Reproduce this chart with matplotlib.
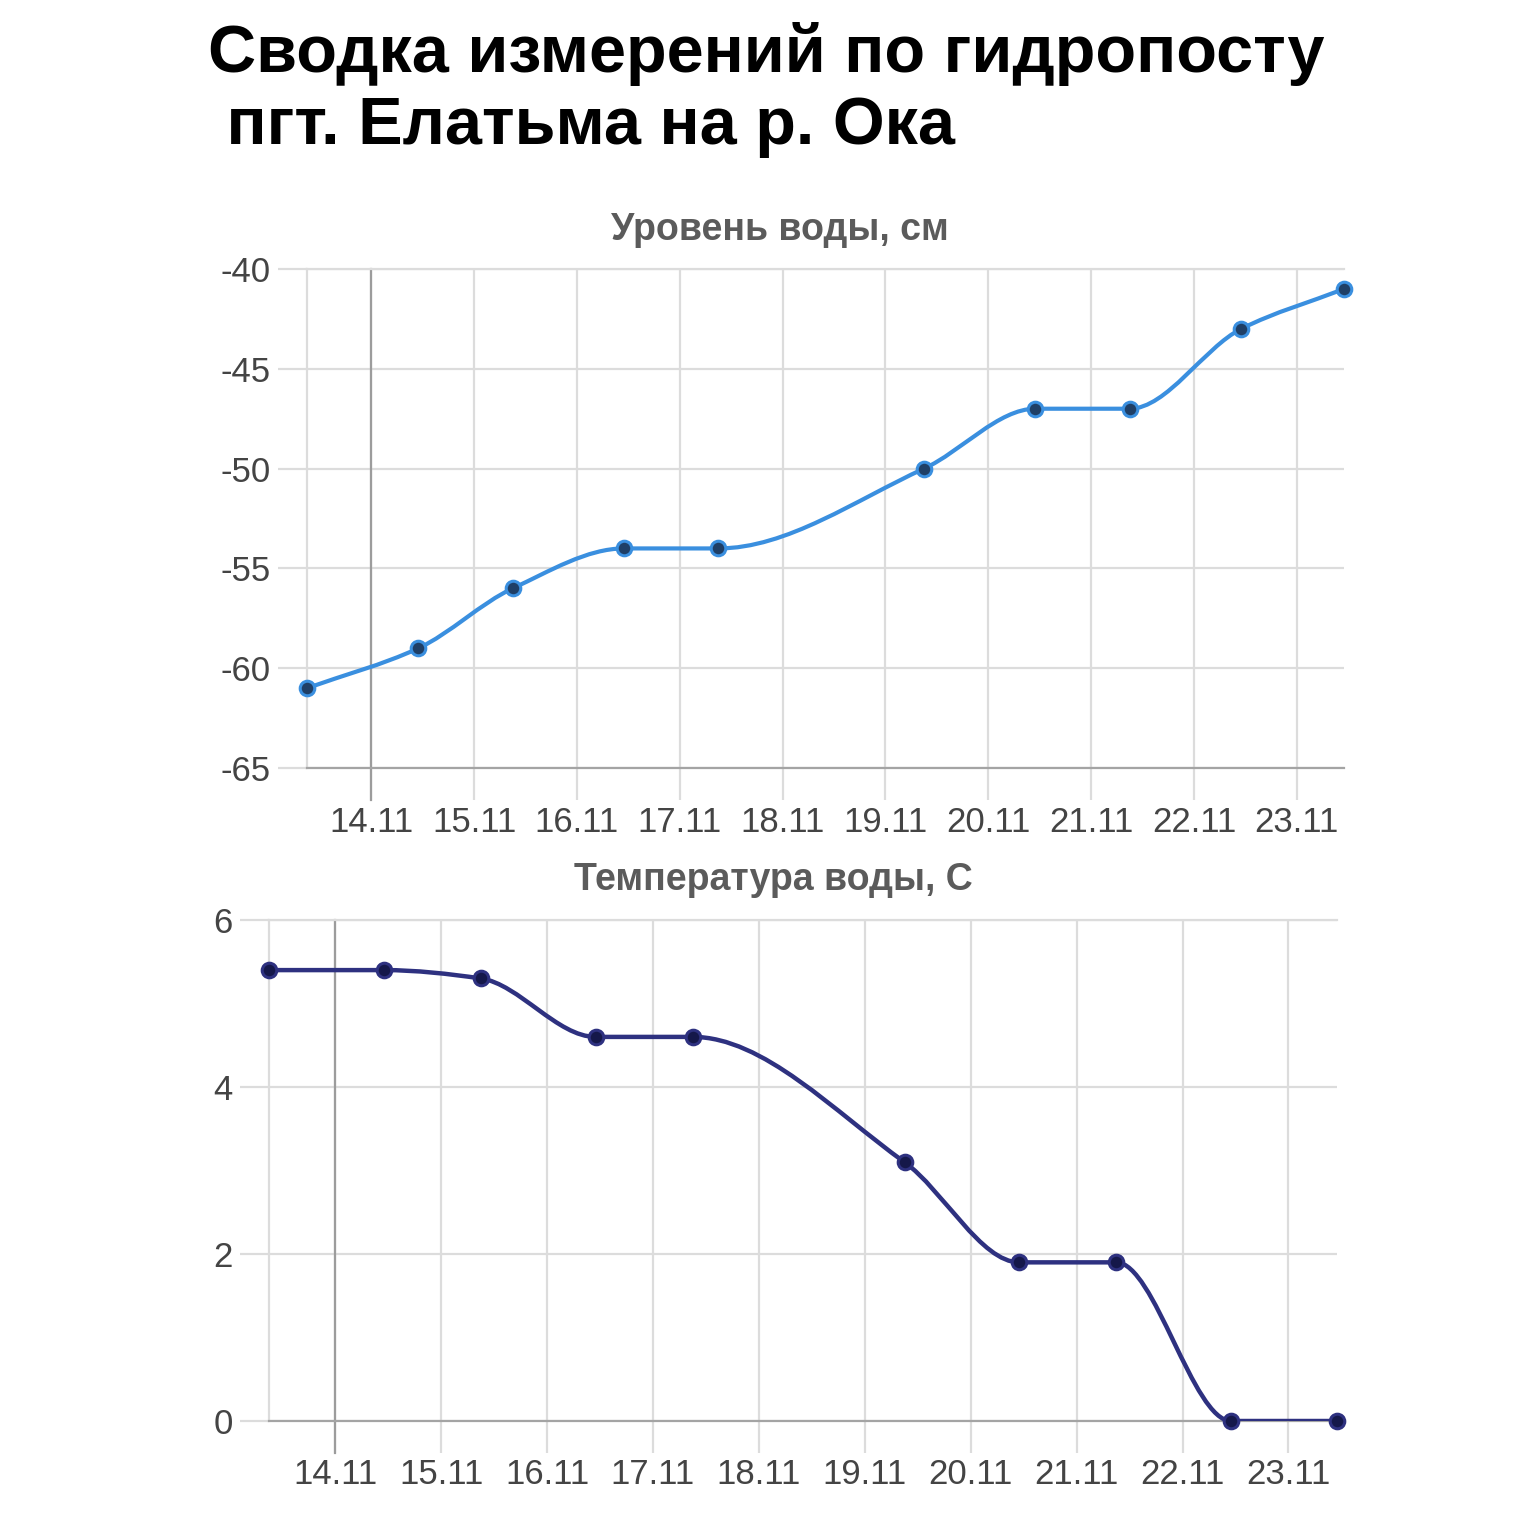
import numpy as np
import pandas as pd
import matplotlib
matplotlib.use("Agg")
import matplotlib.pyplot as plt
import matplotlib.dates as mdates
from matplotlib.path import Path
from matplotlib.patches import PathPatch

plt.rcParams["font.family"] = ["Liberation Sans", "DejaVu Sans"]
plt.rcParams["axes.unicode_minus"] = False

# данные гидропоста
datas = pd.to_datetime([
    "2023-11-13 09:00", "2023-11-14 11:00", "2023-11-15 09:00",
    "2023-11-16 11:00", "2023-11-17 09:00", "2023-11-19 09:00",
    "2023-11-20 11:00", "2023-11-21 09:00", "2023-11-22 11:00",
    "2023-11-23 11:00",
])
nivel = [-61, -59, -56, -54, -54, -50, -47, -47, -43, -41]
temperatura = [5.4, 5.4, 5.3, 4.6, 4.6, 3.1, 1.9, 1.9, 0, 0]

dias = pd.date_range("2023-11-14", "2023-11-23", freq="D")
ticks_nivel = [-65, -60, -55, -50, -45, -40]
ticks_temp = [0, 2, 4, 6]

titulo = "Сводка измерений по гидропосту\n пгт. Елатьма на р. Ока"
titulo_nivel = "Уровень воды, см"
titulo_temp = "Температура воды, С"

cor_grade = "#dcdcdc"
cor_base = "#a4a4a4"


def curva_suave(ax, x, y, cor, lw):
    # linha suavizada (bezier monotona) passando pelos pontos
    x = np.asarray(mdates.date2num(x), float)
    y = np.asarray(y, float)
    h = np.diff(x)
    d = np.diff(y) / h
    m = np.zeros_like(y)
    m[0] = d[0]
    m[-1] = d[-1]
    for k in range(1, len(y) - 1):
        if d[k - 1] * d[k] > 0:
            w1 = 2 * h[k] + h[k - 1]
            w2 = h[k] + 2 * h[k - 1]
            m[k] = (w1 + w2) / (w1 / d[k - 1] + w2 / d[k])
    verts = [(x[0], y[0])]
    codes = [Path.MOVETO]
    for k in range(len(h)):
        verts += [
            (x[k] + h[k] / 3, y[k] + m[k] * h[k] / 3),
            (x[k + 1] - h[k] / 3, y[k + 1] - m[k + 1] * h[k] / 3),
            (x[k + 1], y[k + 1]),
        ]
        codes += [Path.CURVE4] * 3
    ax.add_patch(PathPatch(
        Path(verts, codes),
        fill=False,
        edgecolor=cor,
        lw=lw,
        capstyle="round",
        joinstyle="round",
        zorder=3
    ))


def estilo(ax, yticks):
    ax.set_xlim(datas[0], datas[-1])
    ax.set_ylim(yticks[0], yticks[-1])
    ax.set_yticks(yticks)
    ax.set_xticks(dias)
    ax.xaxis.set_major_formatter(mdates.DateFormatter("%d.%m"))
    ax.grid(True, color=cor_grade, lw=1.6)
    ax.set_axisbelow(True)
    ax.tick_params(axis="x", length=23, width=1.6, color=cor_grade,
                   labelsize=25, labelcolor="#444444", pad=4)
    ax.tick_params(axis="y", length=21, width=1.6, color=cor_grade,
                   labelsize=25, labelcolor="#444444", pad=5)
    ax.spines["right"].set_visible(False)
    ax.spines["top"].set_color(cor_grade)
    ax.spines["left"].set_color(cor_grade)
    ax.spines["bottom"].set_color(cor_base)
    for s in ["top", "left", "bottom"]:
        ax.spines[s].set_linewidth(1.6)
    # linha escura em 14.11
    ax.axvline(dias[0], ymin=-0.064, ymax=1, color="#9c9c9c", lw=1.6,
               clip_on=False, zorder=1)


fig = plt.figure(figsize=(15.3, 15.33), dpi=100)

fig.text(208 / 1530, 1 - 90 / 1533, titulo, ha="left", va="center",
         fontsize=48, fontweight="bold", color="#000000", linespacing=1.19)

# nível da água
ax1 = fig.add_axes([307 / 1530, 1 - 768 / 1533, 1037 / 1530, 499 / 1533])
estilo(ax1, ticks_nivel)
curva_suave(ax1, datas, nivel, "#3a8fdf", 3.0)
ax1.plot(datas, nivel, "o", ms=10.5, mfc="#1f3f66", mec="#3a8fdf", mew=2.2,
         clip_on=False, zorder=4)
fig.text(780 / 1530, 1 - 230 / 1533, titulo_nivel, ha="center", va="center",
         fontsize=27, fontweight="bold", color="#5b5b5b")

# temperatura da água
ax2 = fig.add_axes([269 / 1530, 1 - 1421 / 1533, 1068 / 1530, 501 / 1533])
estilo(ax2, ticks_temp)
curva_suave(ax2, datas, temperatura, "#2e3180", 3.2)
ax2.plot(datas, temperatura, "o", ms=10.5, mfc="#15184a", mec="#2e3180", mew=2.2,
         clip_on=False, zorder=4)
fig.text(773 / 1530, 1 - 880 / 1533, titulo_temp, ha="center", va="center",
         fontsize=27, fontweight="bold", color="#5b5b5b")

fig.savefig("out.png", dpi=100)
